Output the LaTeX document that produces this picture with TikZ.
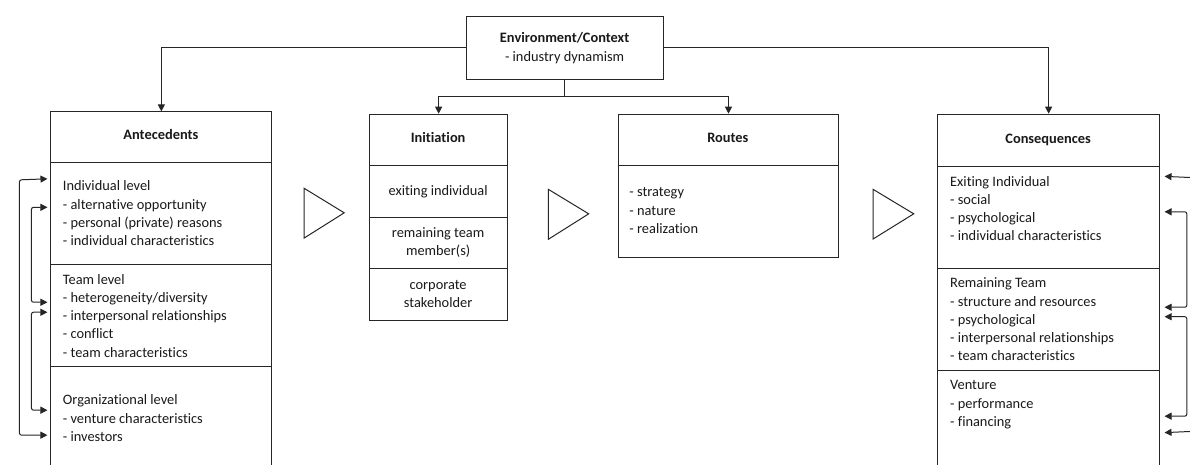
\documentclass[tikz,border=0pt]{standalone}
\usepackage{fontspec}
\setmainfont{Carlito}[Ligatures=NoCommon]
\usetikzlibrary{arrows.meta}
\begin{document}
\begin{tikzpicture}[x=1pt,y=-1pt,
  line width=1pt,
  every path/.style={draw=black!85},
  box/.style={draw=black!85, line width=1pt, inner sep=0pt, anchor=north west},
  txt/.style={inner sep=0pt, anchor=north west, align=left, text=black!90,
     font=\fontsize{14.4}{18.3}\selectfont},
  ctxt/.style={inner sep=0pt, anchor=north, align=center, text=black!90,
     font=\fontsize{14.4}{18.3}\selectfont},
  head/.style={inner sep=0pt, anchor=base, text=black!90,
     font=\fontsize{14.4}{18.3}\selectfont\bfseries},
  arr/.style={-{Triangle[length=7pt,width=7pt]}, line width=1pt},
  barr/.style={{Triangle[length=7pt,width=7pt]}-{Triangle[length=7pt,width=7pt]}, line width=1pt, rounded corners=2pt},
  tri/.style={draw=black!85, line width=1pt, line join=miter}
]
\useasboundingbox (0,0) rectangle (1190,464);
\fill[white] (0,0) rectangle (1190,464);

% boxes
\node[box, minimum width=197.3pt, minimum height=63pt] (env) at (466,15.7) {};
\node[box, minimum width=221pt, minimum height=370pt] (ant) at (50,111) {};
\node[box, minimum width=138pt, minimum height=206.7pt] (init) at (369,113.3) {};
\node[box, minimum width=220.8pt, minimum height=143.7pt] (rout) at (617.7,113.3) {};
\node[box, minimum width=221.6pt, minimum height=370pt] (cons) at (937.7,113.3) {};

% dividers
\draw (ant.west |- 0,162) -- (ant.east |- 0,162);
\draw (ant.west |- 0,264) -- (ant.east |- 0,264);
\draw (ant.west |- 0,366.7) -- (ant.east |- 0,366.7);
\draw (init.west |- 0,164.7) -- (init.east |- 0,164.7);
\draw (init.west |- 0,216.7) -- (init.east |- 0,216.7);
\draw (init.west |- 0,268) -- (init.east |- 0,268);
\draw (rout.west |- 0,164.7) -- (rout.east |- 0,164.7);
\draw (cons.west |- 0,165.7) -- (cons.east |- 0,165.7);
\draw (cons.west |- 0,268.3) -- (cons.east |- 0,268.3);
\draw (cons.west |- 0,370.7) -- (cons.east |- 0,370.7);

% texts
\node[ctxt] (envt) at (564.6,29) {\rule{0pt}{13pt}\textbf{Environment/Context}\\- industry dynamism};

\node[head] (anth) at (160.5,139.3) {Antecedents};
\node[txt] (ant1) at (62,177) {\rule{0pt}{13pt}Individual level\\- alternative opportunity\\- personal (private) reasons\\- individual characteristics};
\node[txt] (ant2) at (62,270.3) {\rule{0pt}{13pt}Team level\\- heterogeneity/diversity\\- interpersonal relationships\\- conflict\\- team characteristics};
\node[txt] (ant3) at (62,391.3) {\rule{0pt}{13pt}Organizational level\\- venture characteristics\\- investors};

\node[head] (inith) at (438,142.6) {Initiation};
\node[ctxt] (init1) at (438,182) {\rule{0pt}{13pt}exiting individual};
\node[ctxt] (init2) at (438,223.6) {\rule{0pt}{13pt}remaining team\\member(s)};
\node[ctxt] (init3) at (438,275.6) {\rule{0pt}{13pt}corporate\\stakeholder};

\node[head] (routh) at (728,142.6) {Routes};
\node[txt] (rout1) at (629,183) {\rule{0pt}{13pt}- strategy\\- nature\\- realization};

\node[head] (consh) at (1048.5,143.6) {Consequences};
\node[txt] (cons1) at (950,172.3) {\rule{0pt}{13pt}Exiting Individual\\- social\\- psychological\\- individual characteristics};
\node[txt] (cons2) at (950,274) {\rule{0pt}{13pt}Remaining Team\\- structure and resources\\- psychological\\- interpersonal relationships\\- team characteristics};
\node[txt] (cons3) at (950,376.3) {\rule{0pt}{13pt}Venture\\- performance\\- financing};

% triangles
\draw[tri] (304,188) -- (344,212.5) -- (304,237.7) -- cycle;
\draw[tri] (548.3,189) -- (588.7,213.5) -- (548.3,239) -- cycle;
\draw[tri] (873.3,189) -- (914,213.5) -- (873.3,238.7) -- cycle;

% environment connectors
\draw[arr] (env.west |- 0,46.7) -| (ant.north);
\draw[arr] (env.east |- 0,46.7) -| (cons.north);
\coordinate (split) at (564.3,96);
\draw (env.south -| split) -- (split);
\draw[arr] (split) -| (init.north);
\draw[arr] (split) -| (rout.north);

% left feedback arrows
\coordinate (aL1) at (47,178.5);
\coordinate (aL2) at (47,435);
\coordinate (aL3) at (47,207);
\coordinate (aL4) at (47,302);
\coordinate (aL5) at (47,312);
\coordinate (aL6) at (47,410);
\draw[barr] (aL1) -- (19,179.5) -- (19,435) -- (aL2);
\draw[barr] (aL3) -- (31,207) -- (31,302) -- (aL4);
\draw[barr] (aL5) -- (31,312) -- (31,410) -- (aL6);

% right feedback arrows
\coordinate (cR1) at (1165,176);
\coordinate (cR2) at (1165,432.5);
\coordinate (cR3) at (1165,211.5);
\coordinate (cR4) at (1165,307);
\coordinate (cR5) at (1165,316.5);
\coordinate (cR6) at (1165,416);
\draw[barr] (cR1) -- (1198,177.5) -- (1198,431) -- (cR2);
\draw[barr] (cR3) -- (1187.3,211.5) -- (1187.3,307) -- (cR4);
\draw[barr] (cR5) -- (1187.3,316.5) -- (1187.3,416) -- (cR6);
\end{tikzpicture}
\end{document}
